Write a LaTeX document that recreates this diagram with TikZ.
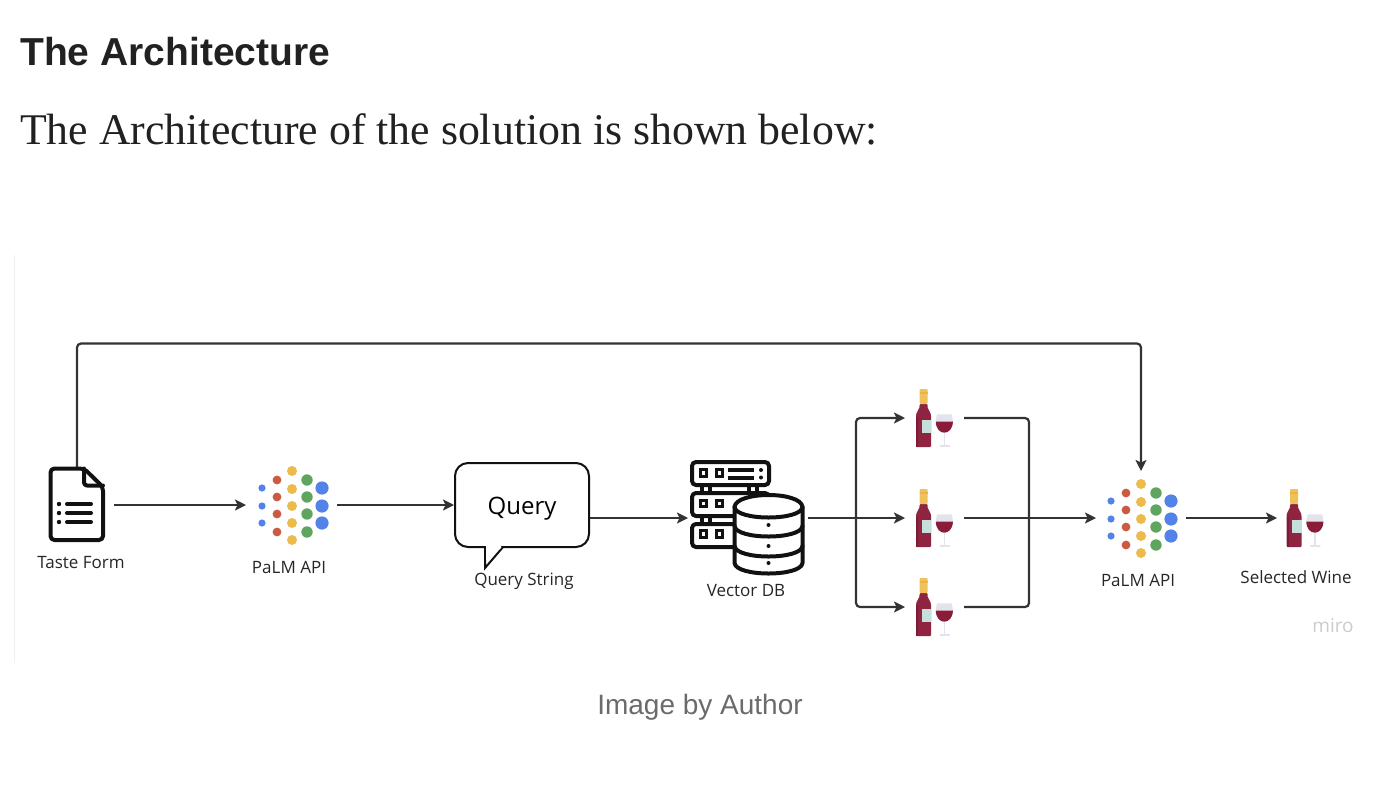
\documentclass[tikz,border=0pt]{standalone}
\usepackage{fontspec}
\setmainfont{Open Sans}
\newfontfamily\titlefont{Liberation Sans}
\newfontfamily\bodyfont{Liberation Serif}
\usetikzlibrary{calc,arrows.meta}
\definecolor{linegray}{HTML}{333333}
\definecolor{iconblack}{HTML}{111111}
\definecolor{dotblue}{HTML}{5383E8}
\definecolor{dotred}{HTML}{CB5A42}
\definecolor{dotyellow}{HTML}{EDBB4B}
\definecolor{dotgreen}{HTML}{5FA55F}
\definecolor{bottlered}{HTML}{8E2440}
\definecolor{bottledark}{HTML}{7A1C36}
\definecolor{winered}{HTML}{8A1C3A}
\definecolor{capgold}{HTML}{EEC15A}
\definecolor{labelmint}{HTML}{C5E0DB}
\definecolor{glassgray}{HTML}{E3E3EC}
\tikzset{
  link/.style={line width=2.2pt,linegray,-{Stealth[length=11pt,width=11pt,inset=2.5pt]}},
  plainlink/.style={line width=2.2pt,linegray},
  iconbox/.style={inner sep=0pt,outer sep=0pt},
  caption/.style={inner sep=0pt,text=black!85,font=\fontsize{17}{20}\selectfont},
  iconline/.style={line width=4pt,iconblack,line join=round,line cap=round},
  pics/palmdots/.style={code={
    \foreach \y in {-18,0,17} \fill[dotblue] (-30,\y) circle (3.6);
    \foreach \y in {-26,-9,8,26} \fill[dotred] (-15,\y) circle (4.4);
    \foreach \y in {-35,-17,0,17,34} \fill[dotyellow] (0,\y) circle (5);
    \foreach \y in {-26,-9,8,26} \fill[dotgreen] (15,\y) circle (5.7);
    \foreach \y in {-18,0,17} \fill[dotblue] (30,\y) circle (6.6);
  }},
  pics/wineglass/.style={code={
    % bottle
    \fill[bottlered,rounded corners=1pt] (-15,-14) -- (-7,-14) -- (-7,-11)
      .. controls (-6,-7) and (-3.5,-6) .. (-3.5,-1) -- (-3.5,29) -- (-18.5,29) -- (-18.5,-1)
      .. controls (-18.5,-6) and (-16,-7) .. (-15,-11) -- cycle;
    \fill[bottledark] (-18.5,-1) rectangle (-16.5,28.5);
    \fill[capgold,rounded corners=1pt] (-15,-29) rectangle (-7,-14);
    \fill[capgold!75!orange] (-15,-26) rectangle (-7,-24);
    \fill[labelmint] (-12.8,2) rectangle (-3.5,14.7);
    % glass
    \fill[glassgray] (2.6,-3.7) -- (17,-3.7) .. controls (18,0) and (18.5,2) .. (18.4,4) -- (1.3,4)
      .. controls (1.2,2) and (1.6,0) .. (2.6,-3.7) -- cycle;
    \fill[winered] (1.3,3.7) -- (18.4,3.7) .. controls (18.2,11) and (14,14.7) .. (9.8,14.7)
      .. controls (5.5,14.7) and (1.5,11) .. (1.3,3.7) -- cycle;
    \draw[glassgray,line width=1.5pt] (9.8,14.7) -- (9.8,27.5);
    \draw[glassgray,line width=1.8pt,line cap=round] (5.8,28) -- (14.8,28);
  }}
}
\begin{document}
\begin{tikzpicture}[x=1pt,y=-1pt]
  \useasboundingbox (0,0) rectangle (1388,790);
  \fill[white] (0,0) rectangle (1388,790);
  % edge of the embedded image
  \draw[black!6,line width=1pt] (14,255) -- (14,663);
  % page texts
  \node[inner sep=0pt,anchor=base west,text=black!87] (heading) at (20,65) {\titlefont\bfseries\fontsize{39}{42}\selectfont The Architecture};
  \node[inner sep=0pt,anchor=base west,text=black!87] (intro) at (20,144) {\bodyfont\fontsize{43.8}{48}\selectfont The Architecture of the solution is shown below:};
  \node[inner sep=0pt,text=black!58] (credit) at (700,707) {\titlefont\fontsize{28}{31}\selectfont Image by Author};
  % icon places
  \node[iconbox,minimum width=74pt,minimum height=70pt] (form) at (77,505) {};
  \node[iconbox,minimum width=91pt,minimum height=94pt] (palmA) at (291.5,505) {};
  \node[draw=iconblack,line width=2pt,fill=white,rounded corners=13pt,minimum width=134pt,minimum height=84pt,
    text height=18pt,text depth=0pt,font=\fontsize{24}{28}\selectfont] (query) at (522,505) {Query};
  \node[iconbox,minimum width=120pt,minimum height=112pt] (vdb) at (748,518) {};
  \node[iconbox,minimum width=59pt,minimum height=58pt] (wineA) at (934.5,418) {};
  \node[iconbox,minimum width=59pt,minimum height=58pt] (wineB) at (934.5,518) {};
  \node[iconbox,minimum width=59pt,minimum height=58pt] (wineC) at (934.5,607) {};
  \node[iconbox,minimum width=90pt,minimum height=94pt] (palmB) at (1141,518) {};
  \node[iconbox,minimum width=56pt,minimum height=58pt] (wineD) at (1305,518) {};
  \coordinate (split) at (856,518);
  \coordinate (merge) at (1029,518);
  \coordinate (overhead) at (600,343.5);
  % connectors
  \draw[link,rounded corners=4pt] (form.north) |- (overhead) -| (palmB.north);
  \draw[link] (form.east) -- (palmA.west);
  \draw[link] (palmA.east) -- (query.west);
  \draw[link] (query.east |- vdb.west) -- (vdb.west);
  \draw[link] (vdb.east) -- (wineB.west);
  \draw[link,rounded corners=4pt] (split) |- (wineA.west);
  \draw[link,rounded corners=4pt] (split) |- (wineC.west);
  \draw[plainlink,rounded corners=4pt] (wineA.east) -| (merge);
  \draw[plainlink,rounded corners=4pt] (wineC.east) -| (merge);
  \draw[link] (wineB.east) -- (palmB.west);
  \draw[link] (palmB.east) -- (wineD.west);
  % speech tail of the query box
  \draw[iconblack,line width=2pt,line join=miter,fill=white] (485,547) -- (485,568) -- (503,547);
  \fill[white] (486.2,544) -- (501,544) -- (501,548) -- (486.2,560) -- cycle;
  % taste form icon
  \draw[iconline,fill=white,rounded corners=4pt] (84,468.5) -- (50.5,468.5) -- (50.5,540) -- (103,540)
    -- (103,487) -- cycle;
  \draw[iconline,rounded corners=3pt] (84,468.5) -- (84,485.5) -- (103,485.5);
  \foreach \y in {504,513,522} {
    \fill[iconblack] (59,\y) circle (2.2);
    \draw[iconline] (67,\y) -- (91,\y);
  }
  % server icon
  \foreach \y in {462,493,524} \draw[iconline,fill=white,rounded corners=4pt] (692,\y) rectangle (769,\y+23);
  \foreach \x in {702,749} \draw[iconline,line cap=butt] (\x,486) -- (\x,492) (\x+8,486) -- (\x+8,492);
  \draw[iconline,line cap=butt] (702,516) -- (702,523) (710,516) -- (710,523) (749,516) -- (749,523) (757,516) -- (757,523);
  \foreach \y in {473,503.5,534} \foreach \x in {703.5,719.5} \draw[iconblack,line width=3pt] (\x-3.3,\y-3.3) rectangle (\x+3.3,\y+3.3);
  \draw[iconline,line cap=butt] (728,470) -- (754,470) (728,477.5) -- (754,477.5);
  \fill[iconblack] (761,470) circle (2) (761,477.5) circle (2);
  % database icon
  \draw[iconline,fill=white] (734.5,507) -- (734.5,563) .. controls (736,577) and (801,577) .. (802.5,563) -- (802.5,507)
    .. controls (801,491) and (736,491) .. (734.5,507) -- cycle;
  \draw[iconline] (734.5,507) .. controls (736,521) and (801,521) .. (802.5,507);
  \draw[iconline] (734.5,526) .. controls (736,540) and (801,540) .. (802.5,526);
  \draw[iconline] (734.5,546) .. controls (736,560) and (801,560) .. (802.5,546);
  \fill[iconblack] (768.5,525) circle (2) (768.5,546) circle (2) (768.5,563) circle (2);
  % dots and bottles
  \pic at (292,506) {palmdots};
  \pic at (1141,519) {palmdots};
  \pic at (wineA) {wineglass};
  \pic at (wineB) {wineglass};
  \pic at (wineC) {wineglass};
  \pic at (wineD) {wineglass};
  % labels
  \node[caption] (formtext) at (81,562.5) {Taste Form};
  \node[caption] (palmAtext) at (289,567) {PaLM API};
  \node[caption] (querytext) at (524,581) {Query String};
  \node[caption] (vdbtext) at (746,591) {Vector DB};
  \node[caption] (palmBtext) at (1138,580) {PaLM API};
  \node[caption] (winetext) at (1296,577) {Selected Wine};
  \node[inner sep=0pt,text=black!20,font=\fontsize{19}{20}\selectfont] (mirotext) at (1333,626) {miro};
\end{tikzpicture}
\end{document}
